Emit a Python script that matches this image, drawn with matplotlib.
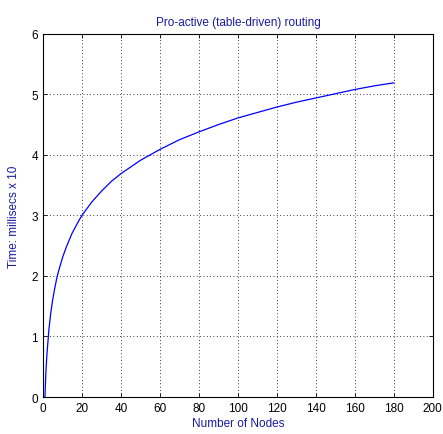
import matplotlib
matplotlib.use("Agg")
import matplotlib.pyplot as plt

nodes = [1, 1.5, 2, 3, 4, 5, 6, 7, 8, 10, 12, 15, 18, 20, 25, 30, 35, 40, 50, 60, 70, 80, 90, 100, 110, 120, 130, 140, 150, 160, 170, 180]
time_ms10 = [0.0, 0.41, 0.69, 1.10, 1.39, 1.61, 1.79, 1.95, 2.08, 2.30, 2.48, 2.71, 2.89, 3.00, 3.22, 3.40, 3.56, 3.69, 3.91, 4.09, 4.25, 4.38, 4.50, 4.61, 4.70, 4.79, 4.87, 4.94, 5.01, 5.08, 5.14, 5.19]
xticks = [0, 20, 40, 60, 80, 100, 120, 140, 160, 180, 200]
yticks = [0, 1, 2, 3, 4, 5, 6]

plt.rcParams['font.family'] = ['Liberation Sans Narrow', 'Liberation Sans', 'DejaVu Sans']
fig = plt.figure(figsize=(4.43, 4.35), dpi=100)
ax = fig.add_axes([0.097, 0.085, 0.880, 0.835])
ax.plot(nodes, time_ms10, color='#0000ff', lw=0.9)
ax.set_xlim(0, 200)
ax.set_ylim(0, 6)
ax.set_xticks(xticks)
ax.set_yticks(yticks)
ax.tick_params(direction='in', length=3, labelsize=8.5, width=0.6, top=True, right=True)
ax.grid(True, color='black', linestyle=(0, (1, 3)), linewidth=0.6)
for s in ax.spines.values():
    s.set_linewidth(0.8)
ax.set_title('Pro-active (table-driven) routing', fontsize=8.5, color='#1a1aa0', pad=6)
ax.set_xlabel('Number of Nodes', fontsize=8.5, color='#1a1aa0', labelpad=2)
ax.set_ylabel('Time: millisecs x 10', fontsize=8.5, color='#1a1aa0', labelpad=8)
fig.savefig('out.png', dpi=100)
